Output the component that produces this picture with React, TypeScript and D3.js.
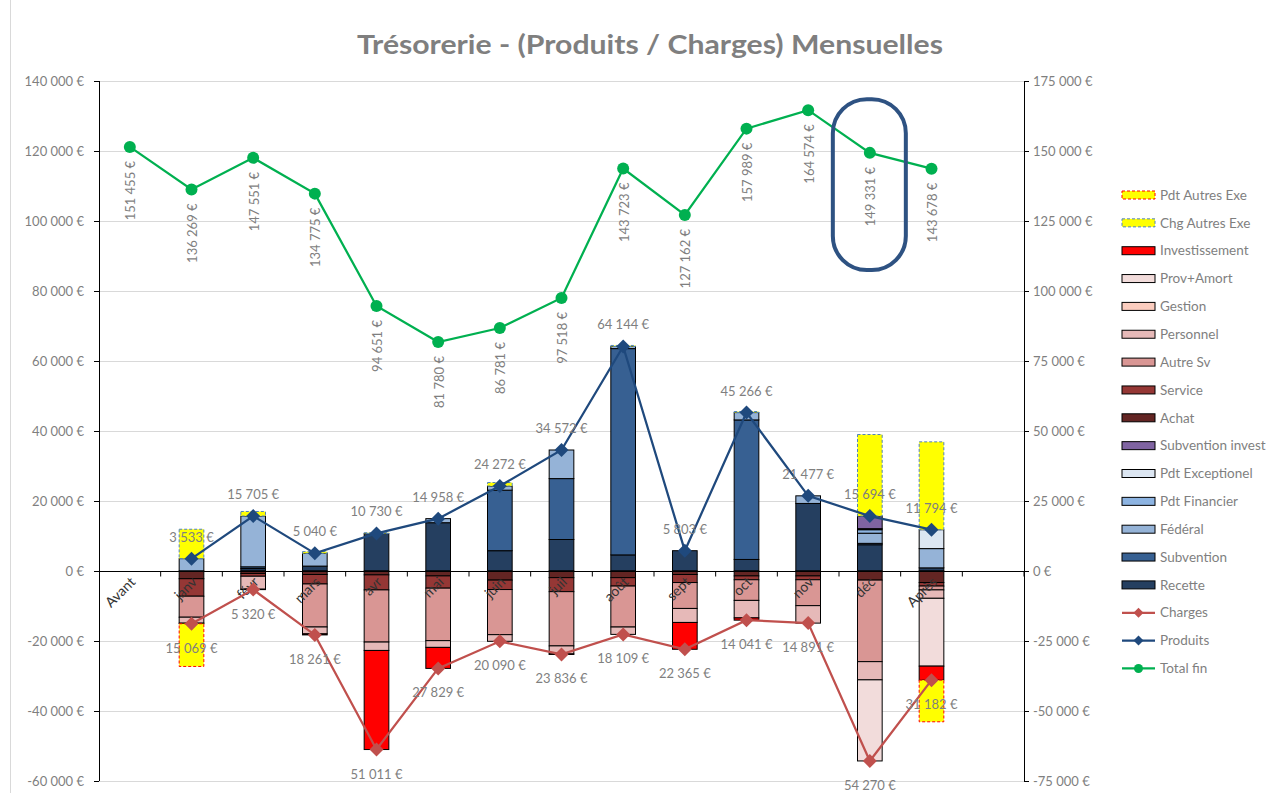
import React, { useEffect, useRef } from 'react';
import { select, scaleLinear, scaleBand, stack, stackOffsetDiverging, line } from 'd3';

// Categories (Avant ... Après); one empty slot at the end like the original sheet
const categories = ['Avant', 'janv', 'févr', 'mars', 'avr', 'mai', 'juin', 'juil', 'août', 'sept', 'oct', 'nov', 'déc', 'Après'];

// Produits (positive stacks)
const recette = [0, 0, 700, 1400, 10730, 13800, 5800, 9000, 4600, 5803, 3300, 19300, 7500, 900];
const subvention = [0, 0, 500, 0, 0, 0, 17300, 17400, 58944, 0, 39866, 0, 400, 0];
const federal = [0, 3533, 14505, 3640, 0, 1158, 1172, 8172, 600, 0, 2100, 2177, 2900, 5500];
const pdtFinancier = [0, 0, 0, 0, 0, 0, 0, 0, 0, 0, 0, 0, 1000, 0];
const pdtExceptionel = [0, 0, 0, 0, 0, 0, 0, 0, 0, 0, 0, 0, 294, 5394];
const subventionInvest = [0, 0, 0, 0, 0, 0, 0, 0, 0, 0, 0, 0, 3600, 0];

// Charges (negative stacks)
const achat = [0, -2200, -700, -1000, -1100, -1400, -2600, -1900, -1900, -1000, -1400, -1400, -2600, -3300];
const service = [0, -5000, -800, -2700, -4300, -3500, -2700, -4000, -2400, -2300, -1100, -1100, 0, -1000];
const autreSv = [0, -6000, 0, -12300, -14900, -15000, -12890, -15500, -11709, -7400, -5900, -7400, -23300, -1100];
const personnel = [0, -1700, -3700, -1961, -2400, -1929, -1900, -2300, -2100, -4000, -5000, -4991, -5200, -2400];
const gestion = [0, 0, 0, 0, 0, 0, 0, 0, 0, 0, 0, 0, 0, 0];
const provAmort = [0, 0, 0, 0, 0, 0, 0, 0, 0, 0, 0, 0, -23170, -19382];
const investissement = [0, -169, -120, -300, -28311, -6000, 0, -136, 0, -7665, -641, 0, 0, -4000];

// Autres exercices
const chgAutresExe = [0, 8400, 1300, 500, 200, 0, 1000, 0, 300, 0, 300, 0, 23300, 25100];
const pdtAutresExe = [0, -12200, 0, 0, 0, 0, 0, 0, 0, 0, 0, 0, 0, -11900];

// Lines
const produits = [null, 3533, 15705, 5040, 10730, 14958, 24272, 34572, 64144, 5803, 45266, 21477, 15694, 11794];
const charges = [null, -15069, -5320, -18261, -51011, -27829, -20090, -23836, -18109, -22365, -14041, -14891, -54270, -31182];
const totalFin = [151455, 136269, 147551, 134775, 94651, 81780, 86781, 97518, 143723, 127162, 157989, 164574, 149331, 143678];

const leftTicks = [-60000, -40000, -20000, 0, 20000, 40000, 60000, 80000, 100000, 120000, 140000];
const rightTicks = [-75000, -50000, -25000, 0, 25000, 50000, 75000, 100000, 125000, 150000, 175000];

interface SeriesDef {
  key: string;
  label: string;
  values: number[];
  fill: string;
  stroke: string;
  dashed?: boolean;
}

const series: SeriesDef[] = [
  { key: 'recette', label: 'Recette', values: recette, fill: '#253f60', stroke: '#000' },
  { key: 'subvention', label: 'Subvention', values: subvention, fill: '#376092', stroke: '#000' },
  { key: 'federal', label: 'Fédéral', values: federal, fill: '#95b3d7', stroke: '#000' },
  { key: 'pdtFinancier', label: 'Pdt Financier', values: pdtFinancier, fill: '#8db4e2', stroke: '#000' },
  { key: 'pdtExceptionel', label: 'Pdt Exceptionel', values: pdtExceptionel, fill: '#dce6f2', stroke: '#000' },
  { key: 'subventionInvest', label: 'Subvention invest', values: subventionInvest, fill: '#8064a2', stroke: '#000' },
  { key: 'achat', label: 'Achat', values: achat, fill: '#632523', stroke: '#000' },
  { key: 'service', label: 'Service', values: service, fill: '#953735', stroke: '#000' },
  { key: 'autreSv', label: 'Autre Sv', values: autreSv, fill: '#d99694', stroke: '#000' },
  { key: 'personnel', label: 'Personnel', values: personnel, fill: '#e6b9b8', stroke: '#000' },
  { key: 'gestion', label: 'Gestion', values: gestion, fill: '#fbcdbf', stroke: '#000' },
  { key: 'provAmort', label: 'Prov+Amort', values: provAmort, fill: '#f2dcdb', stroke: '#000' },
  { key: 'investissement', label: 'Investissement', values: investissement, fill: '#ff0000', stroke: '#000' },
  { key: 'chgAutresExe', label: 'Chg Autres Exe', values: chgAutresExe, fill: '#ffff00', stroke: '#4f81bd', dashed: true },
  { key: 'pdtAutresExe', label: 'Pdt Autres Exe', values: pdtAutresExe, fill: '#ffff00', stroke: '#ff0000', dashed: true },
];

const lineDefs = [
  { label: 'Charges', color: '#c0504d', marker: 'diamond' },
  { label: 'Produits', color: '#1f497d', marker: 'diamond' },
  { label: 'Total fin', color: '#00b050', marker: 'circle' },
];

const W = 1281;
const H = 793;
const FONT = 'Lato, "Open Sans", sans-serif';
const GREY = '#7f7f7f';

const fmt = (v: number) => {
  const s = Math.round(Math.abs(v)).toString().replace(/\B(?=(\d{3})+(?!\d))/g, ' ');
  return (v < 0 ? '-' : '') + s + ' €';
};

const diamond = (r: number) => `M0,${-r}L${r},0L0,${r}L${-r},0Z`;

const App: React.FC = () => {
  const svgRef = useRef<SVGSVGElement>(null);

  useEffect(() => {
    document.body.style.margin = '0';
    if (!svgRef.current) return;
    const svg = select(svgRef.current);
    svg.selectAll('*').remove();

    const left = 99, right = 1024, top = 81, bottom = 781;
    const x = scaleBand<string>().domain([...categories, '']).range([left, right]);
    const yL = scaleLinear().domain([-60000, 140000]).range([bottom, top]);
    const yR = scaleLinear().domain([-75000, 175000]).range([bottom, top]);
    const cx = (c: string) => (x(c) as number) + x.bandwidth() / 2;
    const barW = x.bandwidth() * 0.4;

    svg.style('font-family', FONT);

    // chart frame edge
    svg.append('line').attr('x1', 10.5).attr('x2', 10.5).attr('y1', 0).attr('y2', H).attr('stroke', '#d9d9d9');

    // title
    svg.append('text')
      .attr('x', 650).attr('y', 54)
      .attr('text-anchor', 'middle')
      .attr('font-size', 27).attr('font-weight', 'bold')
      .attr('textLength', 586).attr('lengthAdjust', 'spacingAndGlyphs')
      .attr('fill', GREY)
      .text('Trésorerie - (Produits / Charges) Mensuelles');

    // gridlines
    svg.append('g').selectAll('line').data(leftTicks).join('line')
      .attr('x1', left).attr('x2', right)
      .attr('y1', d => Math.round(yL(d)) + 0.5).attr('y2', d => Math.round(yL(d)) + 0.5)
      .attr('stroke', '#d9d9d9');

    // stacked bars
    const rows = categories.map((c, i) => {
      const r: any = { cat: c };
      series.forEach(s => { r[s.key] = s.values[i]; });
      return r;
    });
    const stacked = stack<any>().keys(series.map(s => s.key)).offset(stackOffsetDiverging)(rows);
    stacked.forEach((layer, li) => {
      const def = series[li];
      svg.append('g').selectAll('rect')
        .data(layer.filter(d => d[1] - d[0] !== 0))
        .join('rect')
        .attr('x', d => cx(d.data.cat) - barW / 2)
        .attr('width', barW)
        .attr('y', d => yL(Math.max(d[0], d[1])))
        .attr('height', d => Math.abs(yL(d[0]) - yL(d[1])))
        .attr('fill', def.fill)
        .attr('stroke', def.stroke)
        .attr('stroke-width', 1)
        .attr('stroke-dasharray', def.dashed ? '3,2' : null);
    });

    // left axis
    const ax = svg.append('g').attr('stroke', '#000');
    ax.append('line').attr('x1', left + 0.5).attr('x2', left + 0.5).attr('y1', top).attr('y2', bottom);
    ax.selectAll('line.t').data(leftTicks).join('line').attr('class', 't')
      .attr('x1', left - 5).attr('x2', left)
      .attr('y1', d => Math.round(yL(d)) + 0.5).attr('y2', d => Math.round(yL(d)) + 0.5);
    svg.append('g').selectAll('text').data(leftTicks).join('text')
      .attr('x', left - 15).attr('y', d => yL(d))
      .attr('dy', '0.35em').attr('text-anchor', 'end')
      .attr('font-size', 13).attr('fill', GREY)
      .text(d => fmt(d));

    // right axis
    const rx = svg.append('g').attr('stroke', '#000');
    rx.append('line').attr('x1', right + 0.5).attr('x2', right + 0.5).attr('y1', top).attr('y2', bottom);
    rx.selectAll('line.t').data(rightTicks).join('line').attr('class', 't')
      .attr('x1', right).attr('x2', right + 5)
      .attr('y1', d => Math.round(yR(d)) + 0.5).attr('y2', d => Math.round(yR(d)) + 0.5);
    svg.append('g').selectAll('text').data(rightTicks).join('text')
      .attr('x', right + 9).attr('y', d => yR(d))
      .attr('dy', '0.35em').attr('text-anchor', 'start')
      .attr('font-size', 13).attr('fill', GREY)
      .text(d => fmt(d));

    // category axis on zero
    const y0 = Math.round(yL(0)) + 0.5;
    const cax = svg.append('g').attr('stroke', '#000');
    cax.append('line').attr('x1', left).attr('x2', right).attr('y1', y0).attr('y2', y0);
    cax.selectAll('line.t').data([...categories, '']).join('line').attr('class', 't')
      .attr('x1', d => (x(d) as number) + x.bandwidth()).attr('x2', d => (x(d) as number) + x.bandwidth())
      .attr('y1', y0).attr('y2', y0 + 5);
    svg.append('g').selectAll('text').data(categories).join('text')
      .attr('transform', d => `translate(${cx(d) + 3},${y0 + 8}) rotate(-45)`)
      .attr('text-anchor', 'end').attr('dy', '0.35em')
      .attr('font-size', 14).attr('fill', '#333333')
      .text(d => d);

    // lines
    const pts = (vals: (number | null)[], sc: any) => vals
      .map((v, i) => ({ v, c: categories[i] }))
      .filter(p => p.v !== null)
      .map(p => ({ x: cx(p.c), y: sc(p.v as number), v: p.v as number }));
    const lg = line<{ x: number; y: number }>().x(d => d.x).y(d => d.y);

    const greenPts = pts(totalFin, yR);
    const bluePts = pts(produits, yL);
    const redPts = pts(charges, yL);

    const drawLine = (p: any[], color: string, mk: string) => {
      svg.append('path').attr('d', lg(p)).attr('fill', 'none').attr('stroke', color).attr('stroke-width', 2.25);
      const g = svg.append('g');
      if (mk === 'circle') {
        g.selectAll('circle').data(p).join('circle')
          .attr('cx', d => d.x).attr('cy', d => d.y).attr('r', 6).attr('fill', color);
      } else {
        g.selectAll('path').data(p).join('path')
          .attr('transform', d => `translate(${d.x},${d.y})`)
          .attr('d', diamond(7)).attr('fill', color);
      }
    };
    drawLine(redPts, '#c0504d', 'diamond');
    drawLine(bluePts, '#1f497d', 'diamond');
    drawLine(greenPts, '#00b050', 'circle');

    // data labels
    svg.append('g').selectAll('text').data(greenPts).join('text')
      .attr('transform', d => `translate(${d.x + 1},${d.y + 14}) rotate(-90)`)
      .attr('text-anchor', 'end').attr('dy', '0.35em')
      .attr('font-size', 13).attr('fill', GREY)
      .text(d => fmt(d.v));
    svg.append('g').selectAll('text').data(bluePts).join('text')
      .attr('x', d => d.x).attr('y', d => d.y - 17)
      .attr('text-anchor', 'middle')
      .attr('font-size', 13).attr('fill', GREY)
      .text(d => fmt(d.v));
    svg.append('g').selectAll('text').data(redPts).join('text')
      .attr('x', d => d.x).attr('y', d => d.y + 29)
      .attr('text-anchor', 'middle')
      .attr('font-size', 13).attr('fill', GREY)
      .text(d => fmt(-d.v));

    // highlight around déc label
    svg.append('rect')
      .attr('x', cx('déc') - 37).attr('width', 73)
      .attr('y', yR(168500)).attr('height', yR(107500) - yR(168500))
      .attr('rx', 34).attr('ry', 34)
      .attr('fill', 'none').attr('stroke', '#2e5282').attr('stroke-width', 4);

    // legend
    const legItems: any[] = [
      ...series.slice().reverse().map(s => ({ type: 'bar', ...s })),
      ...lineDefs.map(l => ({ type: 'line', ...l })),
    ];
    const lx = 1122, ly = 195, step = 27.85;
    const leg = svg.append('g');
    legItems.forEach((it, i) => {
      const yy = ly + i * step;
      if (it.type === 'bar') {
        leg.append('rect').attr('x', lx).attr('y', yy - 4).attr('width', 33).attr('height', 8)
          .attr('fill', it.fill).attr('stroke', it.stroke)
          .attr('stroke-dasharray', it.dashed ? '3,2' : null);
      } else {
        leg.append('line').attr('x1', lx).attr('x2', lx + 33).attr('y1', yy).attr('y2', yy)
          .attr('stroke', it.color).attr('stroke-width', 2.25);
        if (it.marker === 'circle') {
          leg.append('circle').attr('cx', lx + 16.5).attr('cy', yy).attr('r', 4.5).attr('fill', it.color);
        } else {
          leg.append('path').attr('transform', `translate(${lx + 16.5},${yy})`).attr('d', diamond(5)).attr('fill', it.color);
        }
      }
      leg.append('text').attr('x', lx + 38).attr('y', yy).attr('dy', '0.35em')
        .attr('font-size', 13.5).attr('fill', GREY).text(it.label);
    });
  }, []);

  return (
    <svg ref={svgRef} width={W} height={H} style={{ display: 'block', background: '#fff' }} />
  );
};

export default App;
